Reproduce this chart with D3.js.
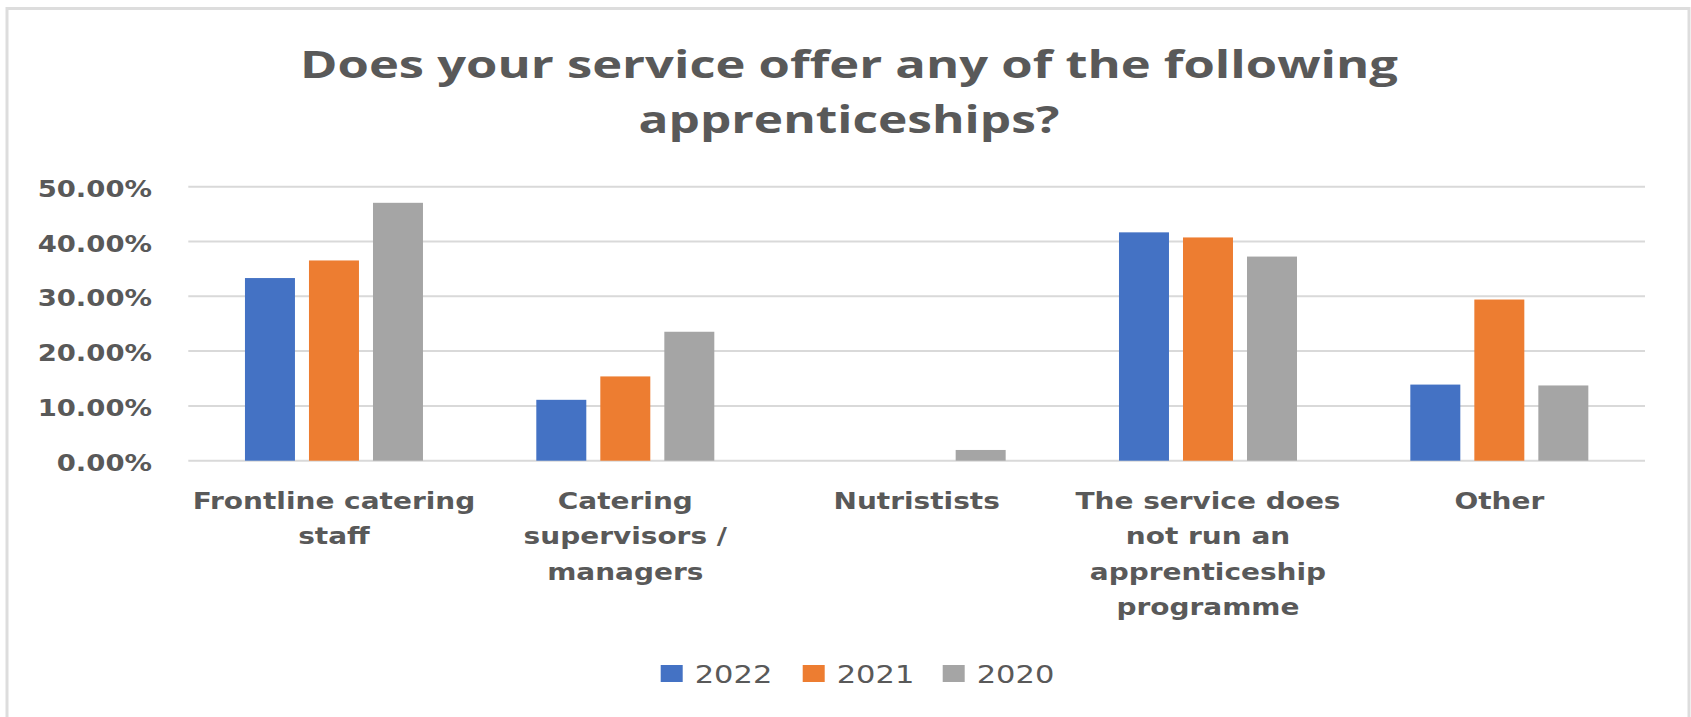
<!DOCTYPE html>
<html>
<head>
<meta charset="utf-8">
<script src="https://cdn.jsdelivr.net/npm/d3@7"></script>
<style>
  html, body { margin: 0; padding: 0; background: #fff; }
  svg { display: block; }
</style>
</head>
<body>
<svg id="chart" width="1691" height="717"></svg>
<script>
// ---- data ----
const titleLines = ["Does your service offer any of the following", "apprenticeships?"];
const categories = ["Frontline catering staff", "Catering supervisors / managers", "Nutristists", "The service does not run an apprenticeship programme", "Other"];
const categoryLines = [
  ["Frontline catering", "staff"],
  ["Catering", "supervisors /", "managers"],
  ["Nutristists"],
  ["The service does", "not run an", "apprenticeship", "programme"],
  ["Other"]
];
const seriesNames = ["2022", "2021", "2020"];
const values2022 = [0.3333, 0.1111, 0.0, 0.4167, 0.1389];
const values2021 = [0.3654, 0.1538, 0.0, 0.4074, 0.2941];
const values2020 = [0.4706, 0.2353, 0.0196, 0.3725, 0.1373];
const yTicks = [0, 0.1, 0.2, 0.3, 0.4, 0.5];
const colors = ["#4472C4", "#ED7D31", "#A5A5A5"];

const series = [values2022, values2021, values2020];
const rows = categories.map((c, i) => ({ cat: c, vals: series.map((s, j) => ({ key: seriesNames[j], v: s[i], j })) }));

const svg = d3.select("#chart");
const textColor = "#595959";

// stretch helper (reference text is horizontally widened)
function stretch(sel, k) {
  sel.each(function () {
    const w = this.getComputedTextLength();
    d3.select(this).attr("textLength", w * k).attr("lengthAdjust", "spacingAndGlyphs");
  });
}

// border
svg.append("rect")
  .attr("x", 7).attr("y", 8.5).attr("width", 1682).attr("height", 720)
  .attr("fill", "#fff").attr("stroke", "#DDDDDD").attr("stroke-width", 3);

// plot geometry
const plot = { left: 188.3, right: 1645, top: 186.7, bottom: 460.7 };

const x0 = d3.scaleBand().domain(categories).range([plot.left, plot.right])
  .paddingInner(0.389).paddingOuter(0.389 / 2);
const x1 = d3.scaleBand().domain(seriesNames).range([0, x0.bandwidth()]).paddingInner(0.219);
const y = d3.scaleLinear().domain([0, 0.5]).range([plot.bottom, plot.top]);

// gridlines
svg.append("g").selectAll("line").data(yTicks).join("line")
  .attr("x1", plot.left).attr("x2", plot.right)
  .attr("y1", d => y(d)).attr("y2", d => y(d))
  .attr("stroke", "#D9D9D9").attr("stroke-width", 2);

// y axis labels
const yAxis = d3.axisLeft(y).tickValues(yTicks).tickFormat(d3.format(".2%")).tickSize(0).tickPadding(0);
const gy = svg.append("g").attr("transform", `translate(152,0)`).call(yAxis);
gy.select(".domain").remove();
gy.selectAll("text")
  .attr("font-family", "DejaVu Sans").attr("font-weight", "bold").attr("font-size", 22.5)
  .attr("fill", textColor).attr("dy", null).attr("y", 9.5).attr("x", 0).attr("text-anchor", "end");
stretch(gy.selectAll("text"), 1.22);

// bars
svg.append("g").selectAll("g").data(rows).join("g")
  .attr("transform", d => `translate(${x0(d.cat)},0)`)
  .selectAll("rect").data(d => d.vals).join("rect")
  .attr("x", d => x1(d.key)).attr("width", x1.bandwidth())
  .attr("y", d => y(d.v)).attr("height", d => y(0) - y(d.v))
  .attr("fill", d => colors[d.j]);

// category labels
const cat = svg.append("g").selectAll("text").data(categories).join("text")
  .attr("font-family", "DejaVu Sans").attr("font-weight", "bold").attr("font-size", 23.5)
  .attr("fill", textColor).attr("text-anchor", "middle");
cat.each(function (c, i) {
  const cx = x0(c) + x0.bandwidth() / 2;
  d3.select(this).selectAll("tspan").data(categoryLines[i]).join("tspan")
    .attr("x", cx).attr("y", (d, k) => 509 + k * 35.3).text(d => d);
});
stretch(cat.selectAll("tspan"), 1.19);

// title
const title = svg.append("g").selectAll("text").data(titleLines).join("text")
  .attr("x", 849).attr("y", (d, i) => 77.5 + i * 55)
  .attr("text-anchor", "middle")
  .attr("font-family", "Open Sans").attr("font-weight", "bold").attr("font-size", 37.5)
  .attr("fill", textColor).text(d => d);
title.each(function (d, i) {
  const target = [1098, 421][i];
  d3.select(this).attr("textLength", target).attr("lengthAdjust", "spacingAndGlyphs");
});

// legend
const legendX = [660.7, 802.7, 942.7];
const lg = svg.append("g").selectAll("g").data(seriesNames).join("g")
  .attr("transform", (d, i) => `translate(${legendX[i]},665)`);
lg.append("rect").attr("width", 22).attr("height", 17).attr("fill", (d, i) => colors[i]);
const lt = lg.append("text").attr("x", 34).attr("y", 18)
  .attr("font-family", "DejaVu Sans").attr("font-size", 25)
  .attr("fill", textColor).text(d => d);
stretch(lt, 1.22);
</script>
</body>
</html>
